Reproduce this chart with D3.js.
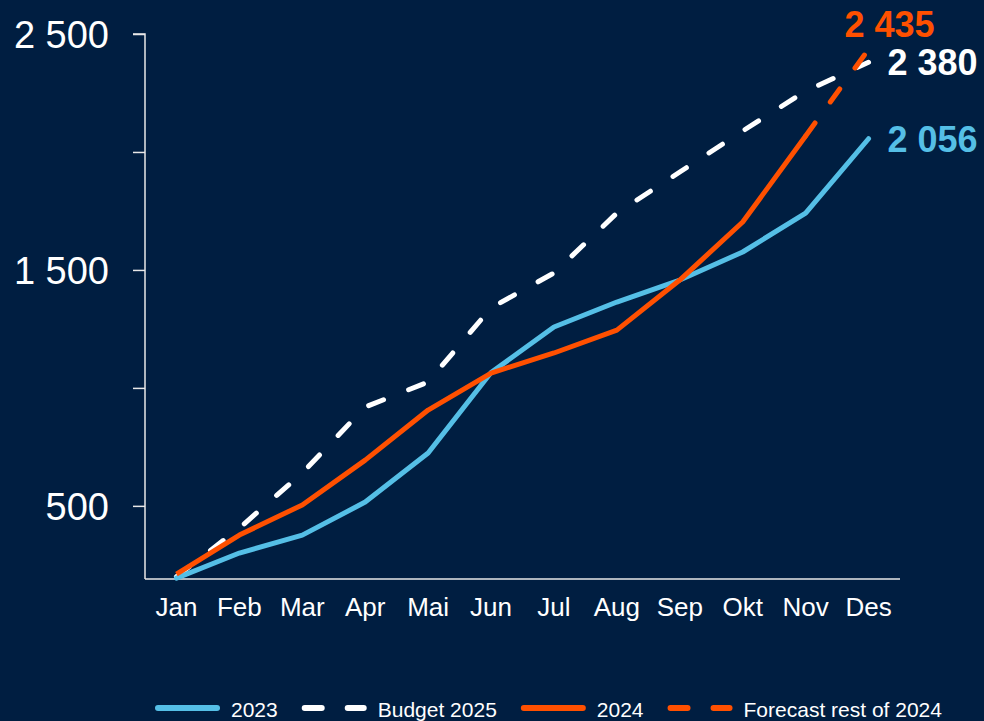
<!DOCTYPE html>
<html>
<head>
<meta charset="utf-8">
<script src="https://cdn.jsdelivr.net/npm/d3@7"></script>
<style>
  html, body { margin: 0; padding: 0; background: #001E41; }
  svg { display: block; font-family: "Liberation Sans", Arial, sans-serif; }
</style>
</head>
<body>
<svg id="chart" width="984" height="721"></svg>
<script>
const months = ["Jan","Feb","Mar","Apr","Mai","Jun","Jul","Aug","Sep","Okt","Nov","Des"];
const values2023 = [194, 300, 376, 516, 724, 1065, 1258, 1364, 1457, 1576, 1741, 2056];
const valuesBudget2025 = [200, 406, 639, 919, 1025, 1339, 1487, 1741, 1915, 2089, 2258, 2380];
const values2024 = [211, 376, 504, 694, 906, 1063, 1148, 1245, 1457, 1703, 2068, null];
const valuesForecast2024 = [null, null, null, null, null, null, null, null, null, null, 2068, 2435];
const yTicks = [500, 1000, 1500, 2000, 2500];
const yLabelTicks = [500, 1500, 2500];
const legendLabels = ["2023", "Budget 2025", "2024", "Forecast rest of 2024"];

const C = { bg: "#001E41", blue: "#55BFE6", orange: "#FF5000", white: "#FFFFFF", axis: "#E8E8E8" };

const svg = d3.select("#chart");
svg.append("rect").attr("width", 984).attr("height", 721).attr("fill", C.bg);

const locale = d3.formatLocale({ decimal: ",", thousands: "\u00a0", grouping: [3], currency: ["", " kr"] });
const fmt = locale.format(",d");

const x = d3.scaleBand().domain(months).range([145, 900]).padding(0);
const xc = m => x(m) + x.bandwidth() / 2;
const y = d3.scaleLinear().domain([190, 2500]).range([579, 34]);

// Y axis
const yAxis = d3.axisLeft(y).tickValues(yTicks).tickSize(12)
  .tickFormat(d => yLabelTicks.includes(d) ? fmt(d) : "");
const gy = svg.append("g").attr("transform", "translate(145,0)").call(yAxis);
gy.select(".domain").attr("d", `M-12,${y(2500)}H0V${y(190)}`).attr("stroke", C.axis).attr("stroke-width", 1.5).attr("fill", "none");
gy.selectAll(".tick line").attr("stroke", C.axis).attr("stroke-width", 1.5);
gy.selectAll(".tick text").attr("fill", C.white).attr("font-size", 38).attr("x", -36).attr("dy", "0.35em")
  .attr("font-family", "Liberation Sans, Arial, sans-serif");

// X axis
const xAxis = d3.axisBottom(x).tickSize(0).tickPadding(20);
const gx = svg.append("g").attr("transform", `translate(0,${y(190)})`).call(xAxis);
gx.select(".domain").attr("d", `M145,0H900`).attr("stroke", C.axis).attr("stroke-width", 1.5);
gx.selectAll(".tick text").attr("fill", C.white).attr("font-size", 26).attr("dy", "0.71em")
  .attr("y", 19).attr("font-family", "Liberation Sans, Arial, sans-serif");

const line = d3.line().defined(d => d.v != null).x(d => xc(d.m)).y(d => y(d.v));
const toPts = arr => months.map((m, i) => ({ m, v: arr[i] }));

const plot = svg.append("g").attr("fill", "none").attr("stroke-width", 5);
plot.append("path").datum(toPts(valuesBudget2025)).attr("d", line)
  .attr("stroke", C.white).attr("stroke-dasharray", "16,27").attr("stroke-linecap", "round").attr("stroke-linejoin", "round");
plot.append("path").datum(toPts(values2023)).attr("d", line)
  .attr("stroke", C.blue).attr("stroke-linecap", "round").attr("stroke-linejoin", "round");
plot.append("path").datum(toPts(values2024)).attr("d", line)
  .attr("stroke", C.orange).attr("stroke-linecap", "butt").attr("stroke-linejoin", "round");
plot.append("path").datum(toPts(valuesForecast2024)).attr("d", line)
  .attr("stroke", C.orange).attr("stroke-dasharray", "16,26").attr("stroke-linecap", "round");

// End labels
const last = months[months.length - 1];
const endLabels = svg.append("g").attr("font-weight", "bold").attr("font-size", 36);
endLabels.append("text").attr("x", xc(last) - 24).attr("y", y(valuesForecast2024[11]) - 12)
  .attr("fill", C.orange).text(fmt(valuesForecast2024[11]));
endLabels.append("text").attr("x", xc(last) + 19).attr("y", y(valuesBudget2025[11]) + 13)
  .attr("fill", C.white).text(fmt(valuesBudget2025[11]));
endLabels.append("text").attr("x", xc(last) + 19).attr("y", y(values2023[11]) + 13)
  .attr("fill", C.blue).text(fmt(values2023[11]));

// Legend
const legendStyles = [
  { color: C.blue, dash: null },
  { color: C.white, dash: "17,26" },
  { color: C.orange, dash: null },
  { color: C.orange, dash: "17,26" }
];
const lg = svg.append("g").attr("transform", "translate(155,708)");
let cx = 0;
legendLabels.forEach((lab, i) => {
  const st = legendStyles[i];
  const ln = lg.append("line").attr("y1", 0).attr("y2", 0).attr("stroke", st.color).attr("stroke-width", 6)
    .attr("stroke-linecap", "round");
  ln.attr("x1", cx + 3).attr("x2", cx + 62);
  if (st.dash) ln.attr("stroke-dasharray", st.dash);
  const t = lg.append("text").attr("x", cx + 76).attr("y", 9).attr("fill", C.white).attr("font-size", 21).text(lab);
  cx = cx + 76 + t.node().getComputedTextLength() + 24;
});
</script>
</body>
</html>
